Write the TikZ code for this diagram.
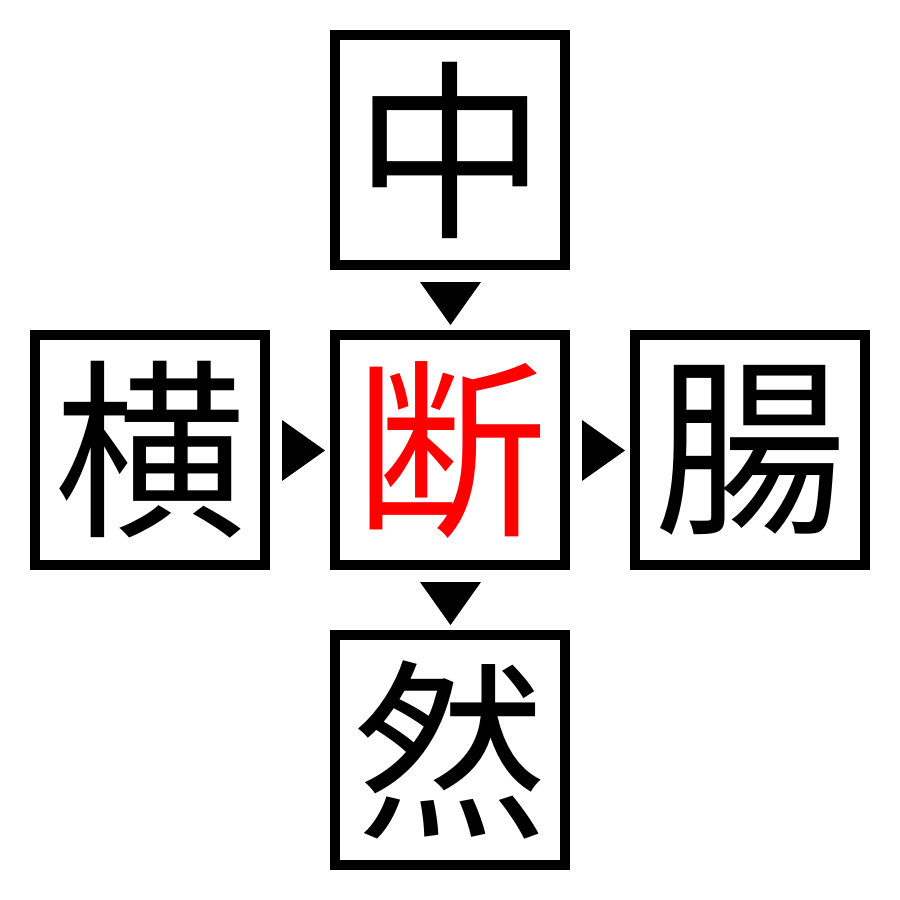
\documentclass[tikz,border=0pt]{standalone}
\usepackage{fontspec}
\newfontfamily\cjk{Noto Sans CJK JP}
\begin{document}
\begin{tikzpicture}[x=1pt,y=-1pt,
  kbox/.style={draw=black,line width=10pt,minimum width=230pt,minimum height=230pt,inner sep=0pt,outer sep=0pt,
    font=\cjk\fontsize{192}{192}\selectfont,anchor=center},
  tri/.style={fill=black}]
\useasboundingbox (0,0) rectangle (900,900);
\fill[white] (0,0) rectangle (900,900);
\node[kbox] (top) at (450,150) {中};
\node[kbox] (left) at (150,450) {横};
\node[kbox,text=red] (mid) at (450,450) {断};
\node[kbox] (right) at (750,450) {腸};
\node[kbox] (bot) at (450,750) {然};
% triangles
\fill[tri] (420,282) -- (481,282) -- (450.5,325) -- cycle;
\fill[tri] (420,582) -- (481,582) -- (450.5,625) -- cycle;
\fill[tri] (282,420) -- (282,481) -- (325,450.5) -- cycle;
\fill[tri] (582,420) -- (582,481) -- (625,450.5) -- cycle;
\end{tikzpicture}
\end{document}
